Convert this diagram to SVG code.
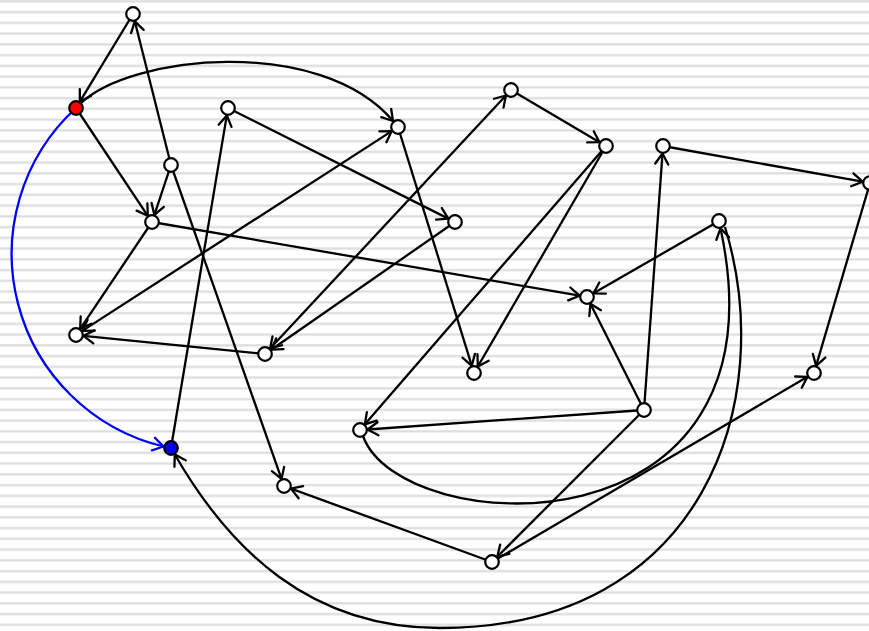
<svg xmlns="http://www.w3.org/2000/svg" width="869" height="631" viewBox="0 0 869 631">
<defs>
<pattern id="stripes" patternUnits="userSpaceOnUse" x="0" y="0" width="869" height="10.75">
<rect x="0" y="0" width="869" height="10.75" fill="#ffffff"/>
<rect x="0" y="-0.2" width="869" height="3" fill="#ebebeb"/>
<rect x="0" y="0.6" width="869" height="1.4" fill="#dcdcdc"/>
</pattern>
<marker id="arr" markerUnits="userSpaceOnUse" markerWidth="30" markerHeight="30" refX="0" refY="0" viewBox="-15 -15 30 30" orient="auto" overflow="visible">
<path d="M-10.5,-6.5 L0,0 L-10.5,6.5" fill="none" stroke="#000" stroke-width="2.3" stroke-linecap="round" stroke-linejoin="round"/>
</marker>
<marker id="arrs" markerUnits="userSpaceOnUse" markerWidth="30" markerHeight="30" refX="0" refY="0" viewBox="-15 -15 30 30" orient="auto-start-reverse" overflow="visible">
<path d="M-10.5,-6.5 L0,0 L-10.5,6.5" fill="none" stroke="#000" stroke-width="2.3" stroke-linecap="round" stroke-linejoin="round"/>
</marker>
<marker id="arrb" markerUnits="userSpaceOnUse" markerWidth="30" markerHeight="30" refX="0" refY="0" viewBox="-15 -15 30 30" orient="auto" overflow="visible">
<path d="M-10.5,-6.5 L0,0 L-10.5,6.5" fill="none" stroke="#0000ff" stroke-width="2.3" stroke-linecap="round" stroke-linejoin="round"/>
</marker>
</defs>
<style>
.e{fill:none;stroke:#000;stroke-width:2.3;marker-end:url(#arr)}
.d{fill:none;stroke:#000;stroke-width:2.3;marker-start:url(#arrs);marker-end:url(#arrs)}
.eb{fill:none;stroke:#0000ff;stroke-width:2.3;marker-end:url(#arrb)}
.n{fill:#fff;stroke:#000;stroke-width:2.2}
</style>
<rect x="0" y="0" width="869" height="631" fill="url(#stripes)"/>
<g id="connectors">
<path class="e" d="M133,14 L79.9,101.6"/>
<path class="e" d="M171,165 L134.8,21.3"/>
<path class="e" d="M80,104 C130,55 320,35 393,121"/>
<path class="e" d="M76,108 L147.8,215.8"/>
<path class="eb" d="M76,108 A197.9,197.9 0 0 0 163.6,446.5"/>
<path class="e" d="M171,165 L154.4,214.9"/>
<path class="e" d="M171,165 L281.5,478.9"/>
<path class="e" d="M228,108 L448.3,218.6"/>
<path class="e" d="M171,448 L226.8,115.4"/>
<path class="e" d="M152,222 L80.2,328.8"/>
<path class="e" d="M152,222 L579.6,295.7"/>
<path class="d" d="M391.7,131.1 L82.3,330.9"/>
<path class="e" d="M265,354 L83.5,335.8"/>
<path class="e" d="M455,222 L271.2,349.7"/>
<path class="d" d="M270.1,348.5 L505.9,95.5"/>
<path class="e" d="M511,90 L599.5,142.2"/>
<path class="e" d="M606,146 L364.9,424.3"/>
<path class="e" d="M606,146 L477.8,366.5"/>
<path class="e" d="M398,127 L471.8,365.8"/>
<path class="e" d="M663,146 L862.6,181.7"/>
<path class="e" d="M870,183 L816.1,365.8"/>
<path class="e" d="M644,410 L662.5,153.5"/>
<path class="e" d="M644,410 L590.4,303.7"/>
<path class="e" d="M719,221 L593.5,293.3"/>
<path class="e" d="M644,410 L367.5,429.5"/>
<path class="e" d="M644,410 L497.3,556.7"/>
<path class="e" d="M492,562 L807.5,376.8"/>
<path class="e" d="M492,562 L291,488.6"/>
<path class="e" d="M363,436 C400,540 792,560 720.5,228.3"/>
<path class="e" d="M725,227 C778,400 705,628 440,628 C310,628 229.8,549.8 174.8,454.5"/>
</g>
<g id="n1"><circle class="n" cx="133" cy="14" r="6.8"/></g>
<g id="n2"><circle class="n" cx="76" cy="108" r="6.8" style="fill:#ff0000"/></g>
<g id="n3"><circle class="n" cx="228" cy="108" r="6.8"/></g>
<g id="n4"><circle class="n" cx="171" cy="165" r="6.8"/></g>
<g id="n5"><circle class="n" cx="152" cy="222" r="6.8"/></g>
<g id="n6"><circle class="n" cx="398" cy="127" r="6.8"/></g>
<g id="n7"><circle class="n" cx="455" cy="222" r="6.8"/></g>
<g id="n8"><circle class="n" cx="511" cy="90" r="6.8"/></g>
<g id="n9"><circle class="n" cx="606" cy="146" r="6.8"/></g>
<g id="n10"><circle class="n" cx="663" cy="146" r="6.8"/></g>
<g id="n11"><circle class="n" cx="870" cy="183" r="6.8"/></g>
<g id="n12"><circle class="n" cx="719" cy="221" r="6.8"/></g>
<g id="n13"><circle class="n" cx="587" cy="297" r="6.8"/></g>
<g id="n14"><circle class="n" cx="76" cy="335" r="6.8"/></g>
<g id="n15"><circle class="n" cx="265" cy="354" r="6.8"/></g>
<g id="n16"><circle class="n" cx="474" cy="373" r="6.8"/></g>
<g id="n17"><circle class="n" cx="814" cy="373" r="6.8"/></g>
<g id="n18"><circle class="n" cx="644" cy="410" r="6.8"/></g>
<g id="n19"><circle class="n" cx="360" cy="430" r="6.8"/></g>
<g id="n20"><circle class="n" cx="171" cy="448" r="6.8" style="fill:#0000ff"/></g>
<g id="n21"><circle class="n" cx="284" cy="486" r="6.8"/></g>
<g id="n22"><circle class="n" cx="492" cy="562" r="6.8"/></g>
</svg>
